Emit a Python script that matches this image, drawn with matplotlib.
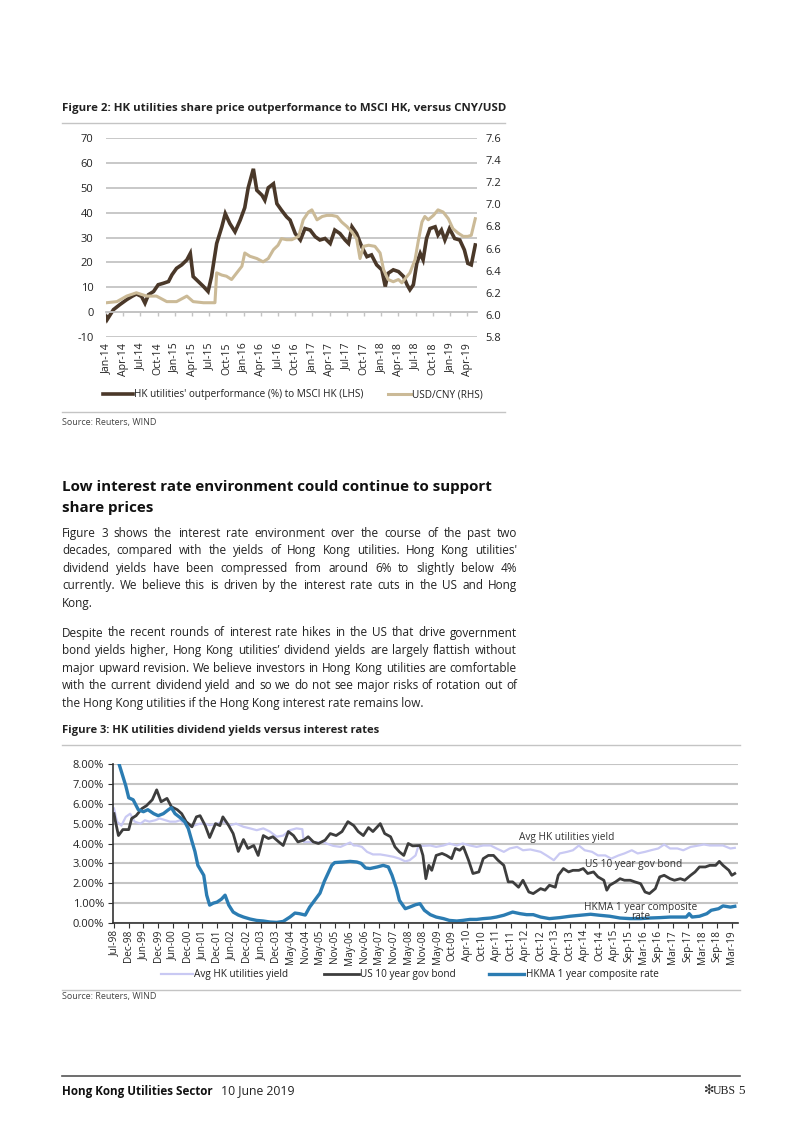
import matplotlib
matplotlib.use('Agg')
import matplotlib.pyplot as plt
from matplotlib.lines import Line2D
import numpy as np

# ---------------- data: Figure 2 ----------------
# months since Jan-2014
perf_month = [0.0, 0.2, 1.3, 2.4, 3.6, 4.5, 5.3, 6.2, 6.8, 7.4, 8.3, 9.1, 10.0, 10.9, 11.5, 12.3,
              13.2, 14.1, 14.7, 15.2, 16.1, 17.0, 17.8, 18.4, 19.3, 20.2, 20.8, 21.6, 22.5, 23.4,
              24.2, 24.8, 25.7, 26.3, 27.2, 27.7, 28.3, 29.2, 29.8, 30.6, 31.5, 32.1, 33.0, 33.9,
              34.7, 35.6, 36.5, 37.3, 38.2, 39.1, 39.9, 40.8, 41.7, 42.3, 42.9, 43.7, 44.6, 45.5,
              46.3, 47.2, 48.1, 48.7, 49.2, 50.1, 51.0, 51.9, 52.5, 53.0, 53.6, 54.2, 54.8, 55.3,
              55.9, 56.5, 57.4, 57.9, 58.5, 59.1, 59.9, 60.8, 61.7, 62.5, 63.1, 63.7, 64.4]
perf_value = [-1.7, -3.0, 1.0, 3.0, 5.0, 6.3, 7.3, 6.3, 3.6, 7.0, 8.3, 11.0, 11.6, 12.3, 15.0, 17.6,
              19.0, 21.0, 23.6, 14.3, 12.3, 10.3, 8.3, 14.3, 27.6, 34.3, 39.6, 35.6, 32.3, 37.0,
              42.0, 50.0, 57.6, 49.0, 47.0, 45.0, 50.0, 51.6, 43.6, 41.0, 38.3, 37.0, 31.6, 29.0,
              33.6, 33.0, 30.3, 29.0, 29.6, 27.6, 33.0, 31.6, 29.0, 27.6, 34.3, 31.6, 26.3, 22.3,
              23.0, 19.0, 17.0, 10.3, 15.6, 17.0, 16.3, 14.3, 11.0, 9.0, 11.0, 19.6, 23.6, 21.0,
              29.6, 33.6, 34.3, 31.0, 33.0, 29.0, 33.6, 29.6, 29.0, 25.0, 19.6, 19.0, 27.0]
fx_month = [0.1, 1.9, 3.6, 5.3, 7.1, 8.8, 10.6, 12.3, 14.1, 15.2, 17.0, 19.0, 19.3, 20.2, 21.0,
            21.9, 22.8, 23.7, 24.2, 25.1, 26.3, 27.4, 28.3, 29.2, 30.0, 30.6, 31.5, 32.4, 33.6,
            34.4, 35.3, 35.9, 36.8, 37.7, 38.5, 39.4, 40.3, 41.1, 42.0, 42.9, 43.7, 44.3, 44.9,
            45.8, 46.9, 47.8, 48.4, 49.2, 50.1, 51.0, 51.6, 52.2, 53.0, 53.9, 54.5, 55.1, 55.6,
            56.2, 57.1, 57.9, 58.8, 59.7, 60.5, 61.4, 62.3, 63.1, 63.7, 64.4]
fx_value = [6.11, 6.12, 6.17, 6.20, 6.17, 6.17, 6.12, 6.12, 6.17, 6.12, 6.11, 6.11, 6.38, 6.36, 6.35,
            6.32, 6.38, 6.44, 6.56, 6.53, 6.51, 6.48, 6.51, 6.59, 6.63, 6.69, 6.68, 6.68, 6.71,
            6.86, 6.93, 6.95, 6.86, 6.89, 6.90, 6.90, 6.89, 6.84, 6.80, 6.75, 6.69, 6.51, 6.62,
            6.63, 6.62, 6.56, 6.41, 6.32, 6.30, 6.32, 6.29, 6.33, 6.38, 6.50, 6.68, 6.84, 6.89,
            6.86, 6.90, 6.95, 6.93, 6.87, 6.78, 6.74, 6.71, 6.71, 6.72, 6.87]
fig2_xlabels = ['Jan-14', 'Apr-14', 'Jul-14', 'Oct-14', 'Jan-15', 'Apr-15', 'Jul-15', 'Oct-15',
                'Jan-16', 'Apr-16', 'Jul-16', 'Oct-16', 'Jan-17', 'Apr-17', 'Jul-17', 'Oct-17',
                'Jan-18', 'Apr-18', 'Jul-18', 'Oct-18', 'Jan-19', 'Apr-19']
fig2_left_ticks = [-10, 0, 10, 20, 30, 40, 50, 60, 70]
fig2_right_ticks = [5.8, 6.0, 6.2, 6.4, 6.6, 6.8, 7.0, 7.2, 7.4, 7.6]

# ---------------- data: Figure 3 ----------------
# x = position on the category axis (0 = Jul-98, 1 = Dec-98, ... one step per tick label)
fig3_xlabels = ['Jul-98', 'Dec-98', 'Jun-99', 'Dec-99', 'Jun-00', 'Dec-00', 'Jun-01', 'Dec-01',
                'Jun-02', 'Dec-02', 'Jun-03', 'Dec-03', 'May-04', 'Nov-04', 'May-05', 'Nov-05',
                'May-06', 'Nov-06', 'May-07', 'Nov-07', 'May-08', 'Nov-08', 'May-09', 'Oct-09',
                'Apr-10', 'Oct-10', 'Apr-11', 'Oct-11', 'Apr-12', 'Oct-12', 'Apr-13', 'Oct-13',
                'Apr-14', 'Oct-14', 'Apr-15', 'Sep-15', 'Mar-16', 'Sep-16', 'Mar-17', 'Sep-17',
                'Mar-18', 'Sep-18', 'Mar-19']
hkma_x = [0.0, 0.3, 0.8, 1.0, 1.3, 1.65, 2.0, 2.3, 2.7, 3.0, 3.35, 3.7, 3.9, 4.15, 4.5, 4.8, 5.05,
          5.3, 5.5, 5.7, 6.1, 6.3, 6.5, 6.75, 7.0, 7.3, 7.55, 7.8, 8.1, 8.45, 8.8, 9.25, 9.7,
          10.15, 10.6, 11.06, 11.5, 11.96, 12.3, 12.6, 13.0, 13.3, 13.7, 14.0, 14.3, 14.8, 15.0,
          15.6, 16.05, 16.5, 16.8, 17.1, 17.4, 17.9, 18.3, 18.65, 18.9, 19.2, 19.4, 19.8, 20.1,
          20.5, 20.8, 21.1, 21.5, 21.9, 22.4, 22.8, 23.3, 23.7, 24.2, 24.65, 25.1, 25.6, 26.0,
          26.5, 26.8, 27.1, 27.6, 28.05, 28.5, 29.0, 29.6, 30.3, 31.0, 31.7, 32.4, 33.0, 33.7,
          34.4, 35.1, 35.8, 36.4, 37.1, 37.8, 38.5, 38.9, 39.1, 39.3, 39.8, 40.3, 40.6, 41.1,
          41.4, 41.9, 42.2]
hkma_y = [9.0, 8.1, 6.9, 6.3, 6.2, 5.7, 5.6, 5.7, 5.5, 5.4, 5.5, 5.7, 5.8, 5.5, 5.3, 5.1, 4.75,
          4.1, 3.6, 2.9, 2.4, 1.4, 0.9, 1.0, 1.05, 1.2, 1.4, 0.9, 0.55, 0.4, 0.3, 0.2, 0.13,
          0.1, 0.05, 0.03, 0.08, 0.3, 0.5, 0.47, 0.4, 0.8, 1.2, 1.5, 2.1, 2.9, 3.04,
          3.07, 3.1, 3.07, 3.0, 2.77, 2.74, 2.82, 2.9, 2.82, 2.4, 1.73, 1.14, 0.72, 0.8,
          0.92, 0.97, 0.64, 0.42, 0.3, 0.22, 0.13, 0.1, 0.13, 0.18, 0.18, 0.22, 0.25, 0.3,
          0.39, 0.47, 0.55, 0.47, 0.42, 0.42, 0.3, 0.22, 0.27, 0.34, 0.39, 0.44, 0.39, 0.34,
          0.25, 0.22, 0.22, 0.25, 0.27, 0.3, 0.3, 0.3, 0.47, 0.3, 0.34, 0.47, 0.64, 0.72,
          0.86, 0.8, 0.84]
us10_x = [0.0, 0.1, 0.3, 0.6, 1.0, 1.2, 1.5, 1.9, 2.2, 2.6, 2.9, 3.2, 3.6, 3.9, 4.3, 4.6, 4.9,
          5.3, 5.6, 5.85, 6.2, 6.5, 6.9, 7.2, 7.4, 7.8, 8.1, 8.45, 8.8, 9.1, 9.5, 9.8, 10.15,
          10.5, 10.8, 11.2, 11.5, 11.85, 12.2, 12.5, 12.9, 13.2, 13.55, 13.9, 14.35, 14.7, 15.1,
          15.5, 15.9, 16.3, 16.6, 16.95, 17.3, 17.6, 18.1, 18.4, 18.8, 19.1, 19.4, 19.7, 20.0,
          20.3, 20.8, 21.0, 21.2, 21.4, 21.6, 21.9, 22.3, 22.6, 22.95, 23.2, 23.5, 23.75, 24.1,
          24.4, 24.8, 25.1, 25.45, 25.8, 26.1, 26.5, 26.8, 27.1, 27.5, 27.8, 28.2, 28.5, 29.0,
          29.3, 29.6, 30.0, 30.2, 30.55, 30.9, 31.2, 31.6, 31.9, 32.2, 32.6, 32.9, 33.3, 33.5,
          33.7, 34.1, 34.4, 34.7, 35.1, 35.4, 35.8, 36.1, 36.4, 36.8, 37.1, 37.4, 37.8, 38.1,
          38.5, 38.8, 39.2, 39.5, 39.8, 40.2, 40.5, 40.9, 41.15, 41.4, 41.8, 42.0, 42.2]
us10_y = [5.5, 5.1, 4.4, 4.7, 4.7, 5.26, 5.4, 5.76, 5.9, 6.2, 6.7, 6.1, 6.27, 5.85, 5.7, 5.5, 5.1,
          4.84, 5.34, 5.4, 4.9, 4.3, 5.0, 4.9, 5.34, 4.9, 4.5, 3.6, 4.2, 3.75, 3.9, 3.4, 4.4,
          4.25, 4.34, 4.08, 3.9, 4.6, 4.4, 4.08, 4.17, 4.34, 4.08, 4.0, 4.17, 4.5, 4.4,
          4.6, 5.1, 4.9, 4.6, 4.4, 4.8, 4.6, 5.0, 4.5, 4.34, 3.83, 3.58, 3.4, 4.0,
          3.88, 3.9, 3.4, 2.23, 2.9, 2.65, 3.4, 3.5, 3.4, 3.24, 3.75, 3.66, 3.83, 3.16,
          2.49, 2.57, 3.24, 3.4, 3.4, 3.16, 2.9, 2.07, 2.07, 1.8, 2.15, 1.56, 1.48, 1.73,
          1.65, 1.9, 1.8, 2.4, 2.74, 2.57, 2.65, 2.65, 2.74, 2.49, 2.57, 2.32, 2.15, 1.65,
          1.9, 2.07, 2.23, 2.15, 2.15, 2.07, 1.98, 1.56, 1.48, 1.73, 2.32, 2.4, 2.23, 2.15,
          2.23, 2.15, 2.4, 2.57, 2.82, 2.82, 2.9, 2.9, 3.1, 2.9, 2.65, 2.4, 2.49]
util_x = [0.0, 0.2, 0.5, 0.8, 1.1, 1.4, 1.8, 2.1, 2.4, 2.8, 3.1, 3.5, 3.8, 4.2, 4.5, 4.8, 5.2,
          5.5, 5.85, 6.2, 6.5, 7.0, 7.4, 7.9, 8.3, 8.8, 9.25, 9.7, 10.15, 10.6, 11.06, 11.5,
          11.96, 12.4, 12.8, 12.9, 13.3, 13.8, 14.2, 14.45, 14.9, 15.4, 15.9, 16.05, 16.3, 16.5,
          16.85, 17.2, 17.6, 18.1, 18.5, 19.0, 19.4, 19.8, 20.1, 20.5, 20.7, 21.0, 21.5, 21.9,
          22.4, 22.8, 23.3, 23.7, 24.2, 24.65, 25.1, 25.6, 26.0, 26.5, 26.9, 27.4, 27.8, 28.3,
          29.0, 29.4, 29.9, 30.3, 30.8, 31.2, 31.6, 32.0, 32.5, 32.9, 33.4, 33.8, 34.3, 34.7,
          35.2, 35.6, 36.1, 36.5, 37.0, 37.4, 37.8, 38.3, 38.7, 39.2, 39.6, 40.1, 40.5, 40.9,
          41.4, 41.9, 42.2]
util_y = [5.76, 5.1, 4.9, 5.34, 5.5, 5.1, 5.0, 5.17, 5.1, 5.17, 5.26, 5.17, 5.1, 5.1, 5.17, 5.0,
          4.84, 4.92, 5.0, 5.0, 4.92, 5.0, 5.1, 4.92, 5.0, 4.84, 4.76, 4.67, 4.76, 4.6, 4.34,
          4.4, 4.67, 4.76, 4.72, 4.08, 4.08, 4.05, 4.08, 4.0, 3.88, 3.83, 4.0, 4.05, 3.9, 3.9,
          3.83, 3.58, 3.45, 3.45, 3.4, 3.33, 3.24, 3.1, 3.16, 3.4, 3.9, 3.88, 3.9, 3.83,
          3.9, 4.0, 3.9, 4.0, 3.9, 3.83, 3.9, 3.9, 3.75, 3.58, 3.75, 3.83, 3.66, 3.7,
          3.58, 3.4, 3.16, 3.5, 3.58, 3.66, 3.9, 3.66, 3.58, 3.4, 3.4, 3.24, 3.4, 3.5,
          3.66, 3.5, 3.58, 3.66, 3.75, 3.95, 3.75, 3.75, 3.66, 3.83, 3.88, 3.95, 3.9, 3.9,
          3.9, 3.75, 3.78]
fig3_yticks = [0, 1, 2, 3, 4, 5, 6, 7, 8]

# ---------------- text ----------------
fig2_title = "Figure 2: HK utilities share price outperformance to MSCI HK, versus CNY/USD"
fig3_title = "Figure 3: HK utilities dividend yields versus interest rates"
heading = ["Low interest rate environment could continue to support", "share prices"]
para1 = ["Figure 3 shows the interest rate environment over the course of the past two",
         "decades, compared with the yields of Hong Kong utilities. Hong Kong utilities'",
         "dividend yields have been compressed from around 6% to slightly below 4%",
         "currently. We believe this is driven by the interest rate cuts in the US and Hong",
         "Kong."]
para2 = ["Despite the recent rounds of interest rate hikes in the US that drive government",
         "bond yields higher, Hong Kong utilities\u2019 dividend yields are largely flattish without",
         "major upward revision. We believe investors in Hong Kong utilities are comfortable",
         "with the current dividend yield and so we do not see major risks of rotation out of",
         "the Hong Kong utilities if the Hong Kong interest rate remains low."]

# ---------------- figure ----------------
W, H = 802, 1133
plt.rcParams['font.family'] = ['Open Sans', 'DejaVu Sans']
fig = plt.figure(figsize=(W / 100, H / 100), dpi=100)
fig.patch.set_facecolor('white')
renderer = fig.canvas.get_renderer()

TXT = '#222222'
GRID = '#c4c4c4'
BROWN = '#4a3829'
TAN = '#cbba97'
LAV = '#c9c9f3'
DARK = '#3d3d3d'
BLUE = '#2b7cb2'


def fx(x):
    return x / W


def fy(y):
    return 1 - y / H


def hline(x0, x1, y, color=GRID, lw=1.0):
    fig.add_artist(Line2D([fx(x0), fx(x1)], [fy(y), fy(y)], color=color, lw=lw,
                          transform=fig.transFigure))


def text_width(s, size, weight='normal'):
    t = fig.text(0, 0, s, fontsize=size, fontweight=weight)
    w = t.get_window_extent(renderer).width
    t.remove()
    return w


def fit_size(s, x0, x1, weight='normal'):
    return 10 * (x1 - x0) / text_width(s, 10, weight)


def fit_text(s, x0, x1, y, weight='normal', color=TXT, family=None):
    t = fig.text(fx(x0), fy(y), s, fontsize=10, fontweight=weight, va='center', ha='left',
                 color=color, **({'family': family} if family else {}))
    w = t.get_window_extent(renderer).width
    t.set_fontsize(10 * (x1 - x0) / w)
    return t


def justify(lines, x0, x1, y0, dy, size):
    for i, line in enumerate(lines):
        y = y0 + i * dy
        if i == len(lines) - 1:
            fig.text(fx(x0), fy(y), line, fontsize=size, va='center', ha='left', color=TXT)
            continue
        words = line.split(' ')
        ts = [fig.text(0, fy(y), w, fontsize=size, va='center', ha='left', color=TXT)
              for w in words]
        ws = [t.get_window_extent(renderer).width for t in ts]
        gap = (x1 - x0 - sum(ws)) / (len(words) - 1)
        x = x0
        for t, w in zip(ts, ws):
            t.set_x(fx(x))
            x += w + gap


# ---------- Figure 2 ----------
fit_text(fig2_title, 62, 505, 108, weight='bold')
hline(62, 505, 123)

ax1 = fig.add_axes([fx(106), fy(337), (477 - 106) / W, (337 - 138) / H])
ax1.set_xlim(0, 64.7)
ax1.set_ylim(-10, 70)
ax1.set_yticks(fig2_left_ticks)
ax1.set_yticklabels([str(v) for v in fig2_left_ticks])
ax1.yaxis.grid(True, color=GRID, lw=1.3)
ax1.set_axisbelow(True)
for s in ['top', 'right', 'left']:
    ax1.spines[s].set_visible(False)
ax1.spines['bottom'].set_position(('data', 0))
ax1.spines['bottom'].set_color(GRID)
ax1.spines['bottom'].set_linewidth(1.3)
ax1.set_xticks(np.arange(0, 3 * len(fig2_xlabels), 3))
ax1.set_xticklabels(fig2_xlabels, rotation=90, va='top', ha='center')
ax1.tick_params(axis='x', length=3, color=GRID, width=1, pad=19, labelsize=7.6, labelcolor=TXT)
ax1.tick_params(axis='y', length=0, pad=9, labelsize=8, labelcolor=TXT)
l1, = ax1.plot(perf_month, perf_value, color=BROWN, lw=2.6, solid_joinstyle='miter')

ax1r = ax1.twinx()
ax1r.set_ylim(5.8, 7.6)
ax1r.set_yticks(fig2_right_ticks)
ax1r.set_yticklabels(['%.1f' % v for v in fig2_right_ticks])
ax1r.tick_params(axis='y', length=0, pad=6, labelsize=8, labelcolor=TXT)
for s in ax1r.spines.values():
    s.set_visible(False)
l2, = ax1r.plot(fx_month, fx_value, color=TAN, lw=2.2)

leg_kw = dict(frameon=False, borderpad=0, borderaxespad=0, handletextpad=0.15,
              fontsize=7.2, labelcolor=TXT, loc='center left')
fig.legend(handles=[l1], labels=["HK utilities' outperformance (%) to MSCI HK (LHS)"],
           bbox_to_anchor=(fx(103), fy(395)), handlelength=3.0, **leg_kw)
fig.legend(handles=[l2], labels=["USD/CNY (RHS)"],
           bbox_to_anchor=(fx(388), fy(395)), handlelength=2.3, **leg_kw)
hline(62, 505, 412)
fig.text(fx(62), fy(423), "Source: Reuters, WIND", fontsize=6.5, va='center', color='#444444')

# ---------- Text body ----------
hsize = fit_size(heading[0], 62, 494, weight='bold')
for i, h in enumerate(heading):
    fig.text(fx(62), fy(487 + i * 20.5), h, fontsize=hsize, fontweight='bold', va='center',
             ha='left', color='#111111')
body_lines = para1[:-1] + para2[:-1]
wmax = max(text_width(s, 10) for s in body_lines)
bsize = 10 * (517 - 62) / wmax * 0.995
justify(para1, 62, 517, 533, 17.6, bsize)
justify(para2, 62, 517, 633, 17.6, bsize)

# ---------- Figure 3 ----------
fit_text(fig3_title, 62, 383, 730, weight='bold')
hline(62, 740, 745)

ax2 = fig.add_axes([fx(113), fy(923), (738 - 113) / W, (923 - 764) / H])
ax2.set_xlim(-0.07, 42.42)
ax2.set_ylim(0, 8.0)
ax2.set_yticks(fig3_yticks)
ax2.set_yticklabels(['%.2f%%' % v for v in fig3_yticks])
ax2.yaxis.grid(True, color=GRID, lw=1.5)
ax2.set_axisbelow(True)
for s in ['top', 'right']:
    ax2.spines[s].set_visible(False)
for s in ['left', 'bottom']:
    ax2.spines[s].set_color('#333333')
    ax2.spines[s].set_linewidth(1.2)
ax2.set_xticks(np.arange(len(fig3_xlabels)))
ax2.set_xticklabels(fig3_xlabels, rotation=90, va='top', ha='center')
ax2.tick_params(axis='x', length=3.5, color='#333333', pad=1.5, labelsize=7.2, labelcolor=TXT)
ax2.tick_params(axis='y', length=3.5, color='#333333', pad=3, labelsize=8, labelcolor=TXT)
p1, = ax2.plot(util_x, util_y, color=LAV, lw=1.6)
p2, = ax2.plot(us10_x, us10_y, color=DARK, lw=2.0)
p3, = ax2.plot(hkma_x, hkma_y, color=BLUE, lw=2.4)

ann_size = 7.3
ax2.text(27.5, 4.28, "Avg HK utilities yield", fontsize=ann_size, color='#333333', va='center', ha='left')
ax2.text(32.0, 2.92, "US 10 year gov bond", fontsize=ann_size, color='#333333', va='center', ha='left')
ax2.text(35.8, 0.55, "HKMA 1 year composite\nrate", fontsize=ann_size, color='#333333', va='center',
         ha='center', linespacing=0.85)

for h, lab, x0, hl in [(p1, "Avg HK utilities yield", 161, 3.2),
                       (p2, "US 10 year gov bond", 324, 3.5),
                       (p3, "HKMA 1 year composite rate", 489, 3.5)]:
    fig.legend(handles=[h], labels=[lab], bbox_to_anchor=(fx(x0), fy(975)),
               handlelength=hl, **dict(leg_kw, fontsize=7.2))
hline(62, 740, 990)
fig.text(fx(62), fy(997), "Source: Reuters, WIND", fontsize=6.5, va='center', color='#444444')

# ---------- Footer ----------
hline(62, 740, 1076, color='#555555', lw=1.2)
fit_text("Hong Kong Utilities Sector", 62, 213, 1091, weight='bold', color='#111111')
fit_text("10 June 2019", 221, 295, 1091, color='#222222')
fig.text(fx(714), fy(1091), "\u273B", fontsize=9, va='center', ha='right', color='#333333',
         family='DejaVu Sans')
fig.text(fx(736), fy(1091), "UBS", fontsize=8.5, va='center', ha='right', color='#222222',
         family='Liberation Serif')
fig.text(fx(745), fy(1091), "5", fontsize=9.5, va='center', ha='right', color='#222222',
         family='Liberation Serif')

fig.savefig('out.png', dpi=100)
